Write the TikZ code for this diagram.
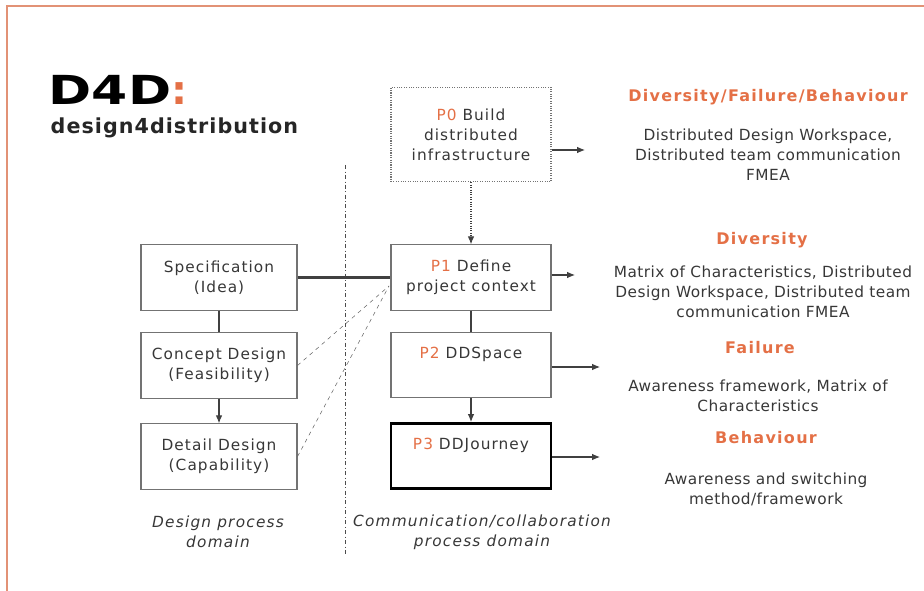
\documentclass[tikz,border=0pt]{standalone}
\usepackage{fontspec}
\setmainfont{DejaVu Sans}
\usetikzlibrary{arrows.meta,positioning}
\definecolor{dorange}{RGB}{228,112,70}
\definecolor{dtext}{RGB}{55,55,55}
\definecolor{dframe}{RGB}{226,146,118}
\newcommand{\txtsize}{\fontsize{11.5}{15}\selectfont}
\newcommand{\spaced}[1]{\addfontfeatures{LetterSpace=#1}}
\tikzset{
  box/.style={draw=black!55, thick, align=center, text=dtext, font=\txtsize\spaced{7}, minimum width=117pt, minimum height=49pt, inner sep=2pt},
  pbox/.style={box, minimum width=120pt},
  link/.style={draw=black!75, thick},
  flow/.style={link, -{Latex[length=6pt,width=5pt]}},
  head/.style={font=\fontsize{12}{15}\selectfont\bfseries\spaced{8}, text=dorange},
  note/.style={font=\txtsize\spaced{3}, align=center, text=dtext},
  domainlabel/.style={font=\txtsize\itshape\spaced{8}, align=center, text=dtext}
}
\begin{document}
\begin{tikzpicture}[x=0.75pt,y=-0.75pt]
  \useasboundingbox (0,0) rectangle (924,591);
  % frame
  \draw[dframe, line width=1.5pt] (7,591) -- (7,6) -- (924,6);
  % title
  \node[anchor=west, font=\fontsize{30}{30}\selectfont\bfseries] (title) at (44,90) {\scalebox{1.3}[1]{D4D}\textcolor{dorange}{:}};
  \node[anchor=west, font=\fontsize{15.5}{15}\selectfont\bfseries\spaced{5}, text=black!85] (subtitle) at (46,128) {design4distribution};
  % domain divider
  \draw[black!70, dash dot] (345,165) -- (345,555);
  % design process domain
  \node[box] (spec) at (219,277.5) {Specification\\(Idea)};
  \node[box] (conc) at (219,365.5) {Concept Design\\(Feasibility)};
  \node[box] (det) at (219,456.5) {Detail Design\\(Capability)};
  % communication/collaboration process domain
  \node[pbox, densely dotted, minimum height=71pt] (p0) at (471,134.5) {\textcolor{dorange}{P0} Build\\distributed\\infrastructure};
  \node[pbox] (p1) at (471,277.5) {\textcolor{dorange}{P1} Define\\project context};
  \node[pbox] (p2) at (471,365) {\textcolor{dorange}{P2} DDSpace\\[3pt]\mbox{}};
  \node[pbox, draw=black, line width=2pt] (p3) at (471,456) {\textcolor{dorange}{P3} DDJourney\\[3pt]\mbox{}};
  \draw[link] (spec) -- (conc);
  \draw[flow] (conc) -- (det);
  \draw[flow, densely dotted] (p0) -- (p1);
  \draw[link] (p1) -- (p2);
  \draw[flow] (p2) -- (p3);
  \draw[link, line width=1.6pt] (spec.east) -- (p1.west);
  \coordinate (join) at (389,286);
  \draw[black!60, dashed] (conc.east) -- (join);
  \draw[black!60, dashed] (det.east) -- (join);
  % outputs
  \coordinate (e0) at (585,150);
  \coordinate (e1) at (575,275);
  \coordinate (e2) at (600,367);
  \coordinate (e3) at (600,457);
  \foreach \p/\e in {p0/e0,p1/e1,p2/e2,p3/e3}
    \draw[flow] (\p.east |- \e) -- (\e);
  % methods
  \node[head] (h0) at (768,97) {Diversity/Failure/Behaviour};
  \node[note] (n0) at (768,155) {Distributed Design Workspace,\\Distributed team communication\\FMEA};
  \node[head] (h1) at (762,240) {Diversity};
  \node[note] (n1) at (763,292) {Matrix of Characteristics, Distributed\\Design Workspace, Distributed team\\communication FMEA};
  \node[head] (h2) at (760,348) {Failure};
  \node[note] (n2) at (758,396) {Awareness framework, Matrix of\\Characteristics};
  \node[head] (h3) at (766,438) {Behaviour};
  \node[note] (n3) at (766,489) {Awareness and switching\\method/framework};
  % domain labels
  \node[domainlabel] (dl) at (218,532) {Design process\\domain};
  \node[domainlabel] (cl) at (482,532) {Communication/collaboration\\process domain};
\end{tikzpicture}
\end{document}
